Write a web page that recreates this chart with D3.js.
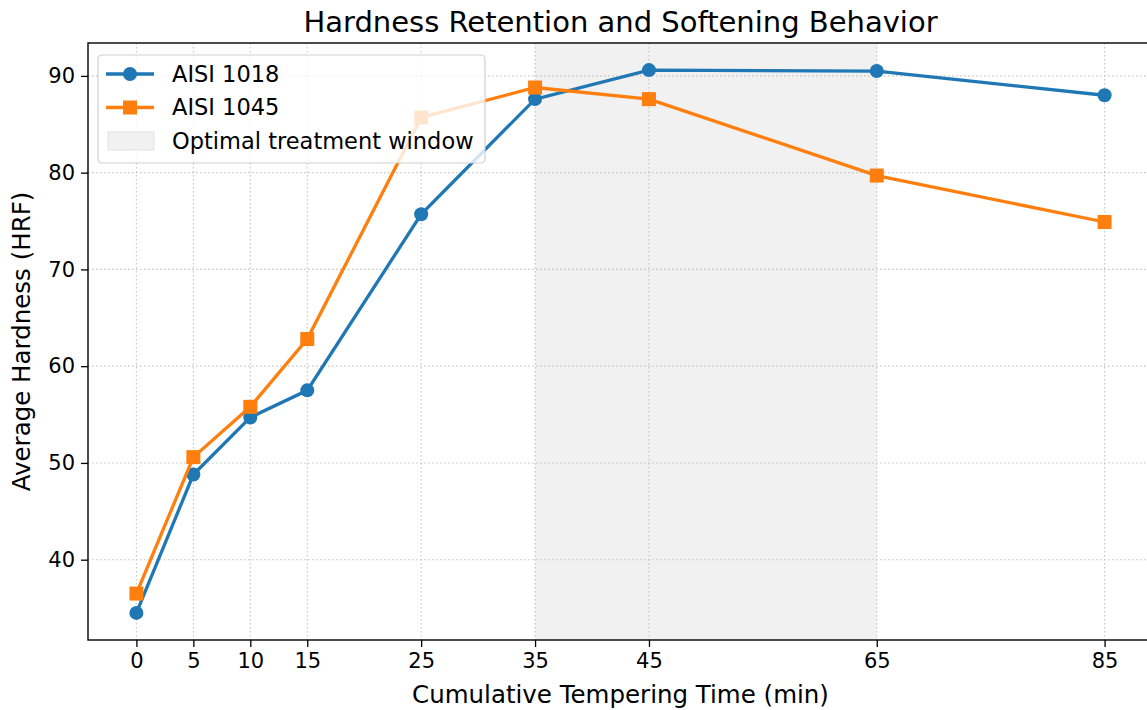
<!DOCTYPE html>
<meta charset="utf-8">
<script src="https://d3js.org/d3.v7.min.js"></script>
<style>
    body { margin: 0; background: #fff; }
    svg { font-family: "DejaVu Sans", sans-serif; display: block; }
</style>
<body>
<div id="my_dataviz"></div>
<script>

    // data
    var times = [0, 5, 10, 15, 25, 35, 45, 65, 85];
    var aisi1018 = [34.5, 48.8, 54.7, 57.5, 75.7, 87.6, 90.6, 90.5, 88.0];
    var aisi1045 = [36.5, 50.6, 55.8, 62.8, 85.7, 88.8, 87.6, 79.7, 74.9];
    var yTicks = [40, 50, 60, 70, 80, 90];
    var windowRange = [35, 65];
    var seriesNames = ["AISI 1018", "AISI 1045"];

    var W = 1147, H = 710;
    var margin = { top: 43, right: -6, bottom: 70, left: 88 };
    var width = W - margin.left - margin.right,
        height = H - margin.top - margin.bottom;

    var svg = d3.select("#my_dataviz")
        .append("svg")
        .attr("width", W)
        .attr("height", H);

    var g = svg.append("g")
        .attr("transform", "translate(" + margin.left + "," + margin.top + ")");

    var x = d3.scaleLinear().domain([-4.25, 89.25]).range([0, width]);
    var y = d3.scaleLinear().domain([31.7, 93.4]).range([height, 0]);

    // shaded window
    g.append("rect")
        .attr("x", x(windowRange[0]))
        .attr("y", 0)
        .attr("width", x(windowRange[1]) - x(windowRange[0]))
        .attr("height", height)
        .attr("fill", "#f1f1f1");

    // grid
    g.append("g").selectAll("line.vx")
        .data(times).enter().append("line")
        .attr("x1", function (d) { return x(d); })
        .attr("x2", function (d) { return x(d); })
        .attr("y1", 0).attr("y2", height)
        .attr("stroke", "#c4c4c4").attr("stroke-width", 1.1)
        .attr("stroke-dasharray", "1.5,2.5");
    g.append("g").selectAll("line.hy")
        .data(yTicks).enter().append("line")
        .attr("y1", function (d) { return y(d); })
        .attr("y2", function (d) { return y(d); })
        .attr("x1", 0).attr("x2", width)
        .attr("stroke", "#c4c4c4").attr("stroke-width", 1.1)
        .attr("stroke-dasharray", "1.5,2.5");

    // lines
    var line = d3.line()
        .x(function (d, i) { return x(times[i]); })
        .y(function (d) { return y(d); });

    g.append("path").datum(aisi1018)
        .attr("d", line).attr("fill", "none")
        .attr("stroke", "#1f77b4").attr("stroke-width", 3.3);
    g.append("g").selectAll("circle")
        .data(aisi1018).enter().append("circle")
        .attr("cx", function (d, i) { return x(times[i]); })
        .attr("cy", function (d) { return y(d); })
        .attr("r", 7)
        .attr("fill", "#1f77b4");

    g.append("path").datum(aisi1045)
        .attr("d", line).attr("fill", "none")
        .attr("stroke", "#ff7f0e").attr("stroke-width", 3.3);
    g.append("g").selectAll("rect.sq")
        .data(aisi1045).enter().append("rect")
        .attr("x", function (d, i) { return x(times[i]) - 7; })
        .attr("y", function (d) { return y(d) - 7; })
        .attr("width", 14).attr("height", 14)
        .attr("fill", "#ff7f0e");

    // axes
    var xAxis = g.append("g")
        .attr("transform", "translate(0," + height + ")")
        .call(d3.axisBottom(x).tickValues(times).tickSize(7).tickPadding(6));
    var yAxis = g.append("g")
        .call(d3.axisLeft(y).tickValues(yTicks).tickSize(7).tickPadding(6));
    [xAxis, yAxis].forEach(function (a) {
        a.selectAll("text").attr("font-size", "21px").attr("fill", "#000")
            .attr("font-family", "DejaVu Sans");
        a.selectAll("line").attr("stroke", "#000").attr("stroke-width", 1.3);
        a.select(".domain").remove();
    });

    // frame
    g.append("rect")
        .attr("x", 0).attr("y", 0)
        .attr("width", width).attr("height", height)
        .attr("fill", "none").attr("stroke", "#000").attr("stroke-width", 1.4);

    // legend
    var lg = g.append("g").attr("transform", "translate(10,12)");
    lg.append("rect")
        .attr("width", 387).attr("height", 108).attr("rx", 4)
        .attr("fill", "#fff").attr("fill-opacity", 0.8)
        .attr("stroke", "#d0d0d0").attr("stroke-width", 1.2);
    var items = [
        { name: seriesNames[0], color: "#1f77b4", type: "circle" },
        { name: seriesNames[1], color: "#ff7f0e", type: "square" },
        { name: "Optimal treatment window", color: "#f1f1f1", type: "patch" }
    ];
    items.forEach(function (it, i) {
        var row = lg.append("g").attr("transform", "translate(0," + (19 + i * 33.5) + ")");
        if (it.type === "patch") {
            row.append("rect").attr("x", 10).attr("y", -9).attr("width", 46).attr("height", 18)
                .attr("fill", it.color).attr("stroke", "#e2e2e2");
        } else {
            row.append("line").attr("x1", 8).attr("x2", 56).attr("y1", 0).attr("y2", 0)
                .attr("stroke", it.color).attr("stroke-width", 3.3);
            if (it.type === "circle") {
                row.append("circle").attr("cx", 32).attr("cy", 0).attr("r", 7).attr("fill", it.color);
            } else {
                row.append("rect").attr("x", 25).attr("y", -7).attr("width", 14).attr("height", 14).attr("fill", it.color);
            }
        }
        row.append("text").attr("x", 74).attr("y", 0).attr("dy", "0.35em")
            .attr("font-size", "22.5px").attr("fill", "#000").text(it.name);
    });

    // titles
    svg.append("text")
        .attr("x", margin.left + width / 2).attr("y", 32)
        .attr("text-anchor", "middle").attr("font-size", "29px")
        .text("Hardness Retention and Softening Behavior");
    svg.append("text")
        .attr("x", margin.left + width / 2).attr("y", 703)
        .attr("text-anchor", "middle").attr("font-size", "24.5px")
        .text("Cumulative Tempering Time (min)");
    svg.append("text")
        .attr("transform", "translate(30," + (margin.top + height / 2) + ") rotate(-90)")
        .attr("text-anchor", "middle").attr("font-size", "24.5px")
        .text("Average Hardness (HRF)");

</script>
</body>
